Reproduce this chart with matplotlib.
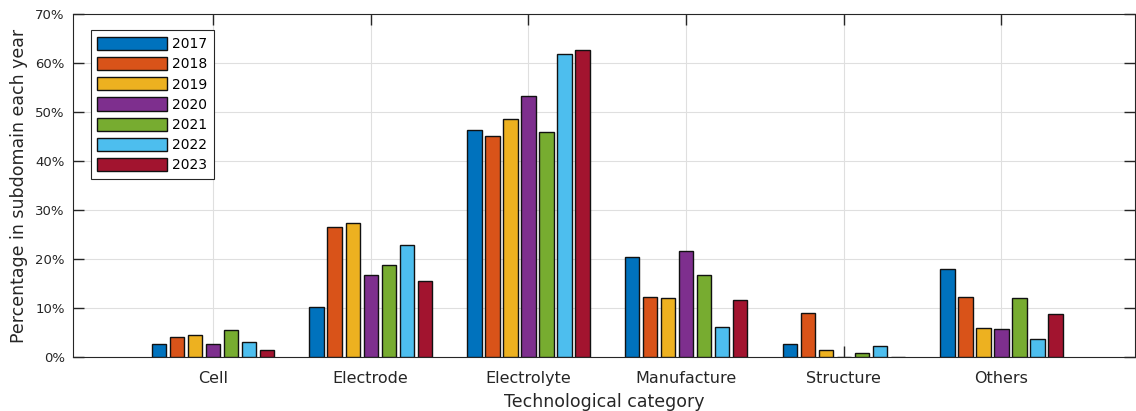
import numpy as np
import matplotlib.pyplot as plt
from matplotlib.ticker import FuncFormatter

plt.rcParams['font.family'] = ['DejaVu Sans']

categories = ['Cell', 'Electrode', 'Electrolyte', 'Manufacture', 'Structure', 'Others']
years = ['2017', '2018', '2019', '2020', '2021', '2022', '2023']

# percentage per category, one list per year
y2017 = [2.6, 10.3, 46.3, 20.5, 2.6, 17.9]
y2018 = [4.1, 26.5, 45.0, 12.2, 9.0, 12.2]
y2019 = [4.5, 27.3, 48.6, 12.0, 1.4, 6.0]
y2020 = [2.6, 16.7, 53.3, 21.7, 0.0, 5.7]
y2021 = [5.5, 18.7, 45.9, 16.8, 0.9, 12.0]
y2022 = [3.1, 22.9, 61.9, 6.05, 2.25, 3.7]
y2023 = [1.4, 15.6, 62.65, 11.6, 0.0, 8.8]

series = [y2017, y2018, y2019, y2020, y2021, y2022, y2023]
colors = ['#0072BD', '#D95319', '#EDB120', '#7E2F8E', '#77AC30', '#4DBEEE', '#A2142F']
txt = '#262626'

fig = plt.figure(figsize=(11.36, 4.11), dpi=100)
ax = fig.add_axes([0.0643, 0.1314, 0.9347, 0.8346])

x = np.arange(1, len(categories) + 1)
n = len(series)
pitch = 0.8 / n
for i, (vals, c) in enumerate(zip(series, colors)):
    off = (i - (n - 1) / 2) * pitch
    ax.bar(x + off, vals, width=pitch * 0.8, color=c, edgecolor='#111111',
           linewidth=1.0, label=years[i], zorder=3)

ax.set_xlim(0.112, 6.846)
ax.set_ylim(0, 70)
ax.set_xticks(x)
ax.set_xticklabels(categories, fontsize=11.5)
ax.set_yticks(np.arange(0, 71, 10))
ax.yaxis.set_major_formatter(FuncFormatter(lambda v, p: '%d%%' % v))
ax.tick_params(axis='y', labelsize=9.5, pad=6)
ax.tick_params(axis='x', pad=10)
ax.tick_params(direction='in', length=8, width=1.0, color=txt,
               top=True, right=True, labelcolor=txt)

ax.grid(True, color='#dfdfdf', linewidth=0.8, zorder=0)
ax.set_axisbelow(True)
for s in ax.spines.values():
    s.set_color(txt)
    s.set_linewidth(0.8)

ax.set_xlabel('Technological category', fontsize=12.5, color=txt, labelpad=5)
ax.set_ylabel('Percentage in subdomain each year', fontsize=12.5, color=txt, labelpad=5)

leg = ax.legend(loc='upper left', bbox_to_anchor=(0.017, 0.952), fontsize=10,
                handlelength=5.0, handleheight=1.1, labelspacing=0.42,
                handletextpad=0.4, borderpad=0.45, borderaxespad=0,
                fancybox=False, framealpha=1)
leg.get_frame().set_edgecolor(txt)
leg.get_frame().set_linewidth(0.8)

fig.savefig('out.png', dpi=100)
